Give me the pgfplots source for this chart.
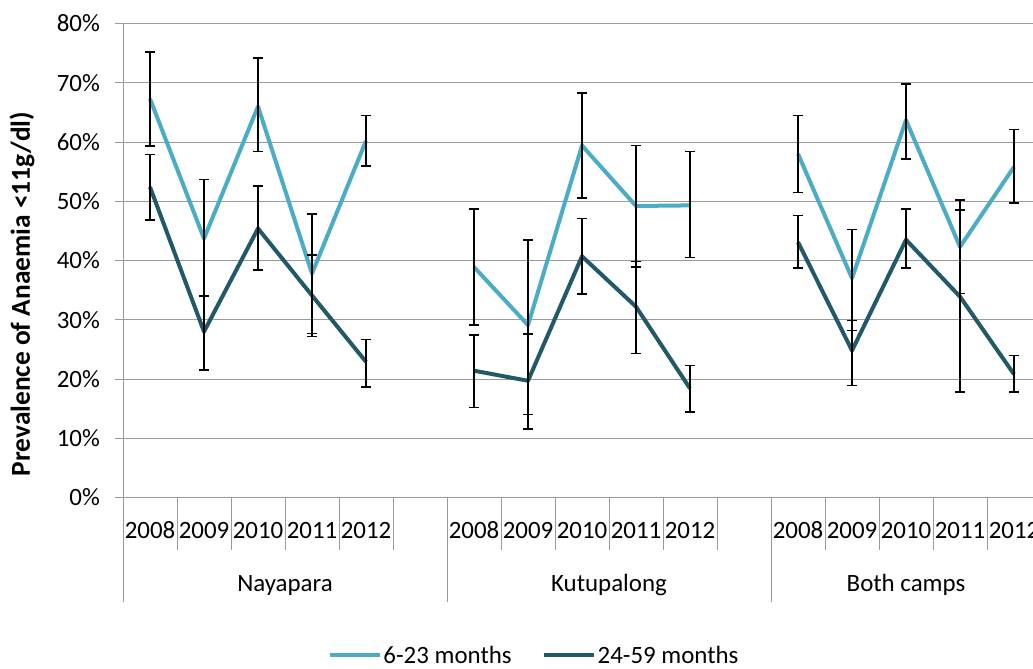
\documentclass[border=0pt]{standalone}
\usepackage{pgfplots}
\pgfplotsset{compat=1.18}
\usepackage{pgfplotstable}
\usepackage{fontspec}
\setmainfont{Carlito}
\definecolor{lightc}{RGB}{75,172,198}
\definecolor{darkc}{RGB}{33,89,104}
\definecolor{gridc}{RGB}{155,155,155}
\pgfplotstableread{
x y hi lo
0 67.3 75.2 59.3
1 43.7 53.7 34.0
2 66.0 74.2 58.4
3 37.8 47.8 27.7
4 60.2 64.5 55.9
6 38.9 48.7 29.1
7 29.1 43.5 14.0
8 59.4 68.3 50.5
9 49.2 59.4 38.9
10 49.3 58.4 40.5
12 58.0 64.5 51.5
13 37.0 45.2 28.2
14 63.7 69.8 57.1
15 42.3 50.2 34.4
16 55.8 62.1 49.7
}\tA
\pgfplotstableread{
x y hi lo
0 52.4 57.9 46.8
1 28.0 34.0 21.5
2 45.4 52.6 38.4
3 34.1 40.9 27.2
4 22.9 26.7 18.7
6 21.4 27.4 15.2
7 19.7 27.6 11.6
8 40.7 47.1 34.3
9 32.2 39.8 24.3
10 18.4 22.3 14.4
12 43.1 47.6 38.7
13 24.8 29.9 18.9
14 43.5 48.7 38.7
15 33.9 48.5 17.8
16 20.8 24.0 17.8
}\tB
\pgfplotsset{
  errstyle/.style={error bars/.cd, y dir=both, y explicit,
    error bar style={black, line width=1.6bp},
    error mark options={black, line width=1.6bp, mark size=4.7bp, rotate=90}},
}
\begin{document}
\begin{tikzpicture}
\useasboundingbox (0bp,0bp) rectangle (1033bp,669bp);
\node[rotate=90, font=\fontsize{27.5}{27.5}\selectfont\bfseries] at (22bp,375bp) {Prevalence of Anaemia <11g/dl)};
\begin{axis}[
 at={(123bp,171.5bp)}, anchor=south west,
 scale only axis, width=918bp, height=474bp,
 xmin=-0.5, xmax=16.5, ymin=0, ymax=80,
 clip=false,
 axis lines=left, axis line style={gridc, line width=0.9bp, -},
 ymajorgrids, grid style={gridc, line width=0.9bp},
 ytick={0,10,...,80},
 yticklabel={\pgfmathprintnumber{\tick}\%},
 /pgf/number format/assume math mode=true,
 tick align=outside, major tick length=8bp,
 ytick style={gridc, line width=0.9bp},
 xtick style={draw=none},
 xtick={0,1,2,3,4,6,7,8,9,10,12,13,14,15,16},
 xticklabels={2008,2009,2010,2011,2012,2008,2009,2010,2011,2012,2008,2009,2010,2011,2012},
 every tick label/.append style={font=\fontsize{25}{25}\selectfont, text=black},
 xticklabel style={anchor=base, yshift=-33bp},
 yticklabel style={anchor=east, inner sep=0pt, xshift=-15bp},
 legend style={at={(0.4477,-0.333)}, anchor=center, draw=none, fill=none,
   font=\fontsize{25}{25}\selectfont, legend columns=2,
   /tikz/every even column/.append style={column sep=28bp}},
 legend image code/.code={\draw[#1] (0bp,0bp) -- (50bp,0bp);},
 every axis plot/.append style={line join=round},
]
\addplot[lightc, line width=4bp, errstyle]
  table[x=x, y=y, y error plus expr=\thisrow{hi}-\thisrow{y}, y error minus expr=\thisrow{y}-\thisrow{lo}, restrict x to domain=0:4] {\tA};
\addlegendentry{6-23 months}
\addplot[darkc, line width=4bp, errstyle]
  table[x=x, y=y, y error plus expr=\thisrow{hi}-\thisrow{y}, y error minus expr=\thisrow{y}-\thisrow{lo}, restrict x to domain=0:4] {\tB};
\addlegendentry{24-59 months}
\addplot[forget plot, lightc, line width=4bp, errstyle]
  table[x=x, y=y, y error plus expr=\thisrow{hi}-\thisrow{y}, y error minus expr=\thisrow{y}-\thisrow{lo}, restrict x to domain=6:10] {\tA};
\addplot[forget plot, darkc, line width=4bp, errstyle]
  table[x=x, y=y, y error plus expr=\thisrow{hi}-\thisrow{y}, y error minus expr=\thisrow{y}-\thisrow{lo}, restrict x to domain=6:10] {\tB};
\addplot[forget plot, lightc, line width=4bp, errstyle]
  table[x=x, y=y, y error plus expr=\thisrow{hi}-\thisrow{y}, y error minus expr=\thisrow{y}-\thisrow{lo}, restrict x to domain=12:16] {\tA};
\addplot[forget plot, darkc, line width=4bp, errstyle]
  table[x=x, y=y, y error plus expr=\thisrow{hi}-\thisrow{y}, y error minus expr=\thisrow{y}-\thisrow{lo}, restrict x to domain=12:16] {\tB};
\pgfplotsinvokeforeach{0.5,1.5,2.5,3.5,4.5,6.5,7.5,8.5,9.5,10.5,12.5,13.5,14.5,15.5}{\draw[gridc, line width=0.9bp] (axis cs:#1,0) -- ++(0bp,-52.5bp);}
\pgfplotsinvokeforeach{-0.5,5.5,11.5,16.5}{\draw[gridc, line width=0.9bp] (axis cs:#1,0) -- ++(0bp,-104.5bp);}
\node[anchor=base, yshift=-94bp, font=\fontsize{25}{25}\selectfont] at (axis cs:2.5,0) {Nayapara};
\node[anchor=base, yshift=-94bp, font=\fontsize{25}{25}\selectfont] at (axis cs:8.5,0) {Kutupalong};
\node[anchor=base, yshift=-94bp, font=\fontsize{25}{25}\selectfont] at (axis cs:14,0) {Both camps};
\end{axis}
\end{tikzpicture}
\end{document}
